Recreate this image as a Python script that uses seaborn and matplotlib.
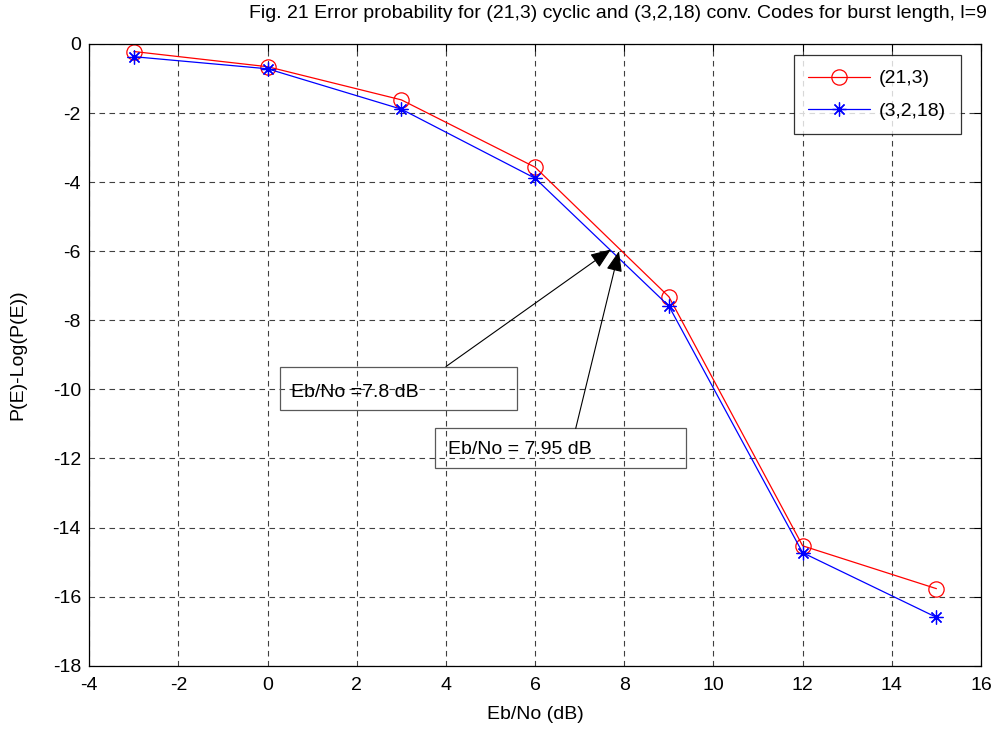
import numpy as np
import pandas as pd
import matplotlib
matplotlib.use("Agg")
import matplotlib.pyplot as plt
import matplotlib.patches as mpatches
import seaborn as sns

# data
ebno = [-3, 0, 3, 6, 9, 12, 15]
cyclic_21_3 = [-0.22, -0.66, -1.62, -3.57, -7.32, -14.53, -15.77]
conv_3_2_18 = [-0.37, -0.72, -1.89, -3.89, -7.59, -14.73, -16.60]
series_names = ["(21,3)", "(3,2,18)"]

df = pd.DataFrame({
    "ebno": ebno * 2,
    "pe": cyclic_21_3 + conv_3_2_18,
    "code": [series_names[0]] * len(ebno) + [series_names[1]] * len(ebno),
})

sns.set_style("white")
plt.rcParams["font.family"] = ["Liberation Sans", "DejaVu Sans"]
plt.rcParams["font.size"] = 14
plt.rcParams["axes.unicode_minus"] = False
plt.rcParams["text.color"] = "black"
plt.rcParams["axes.labelcolor"] = "black"

fs = 14
fig = plt.figure(figsize=(10, 7.32), dpi=100)
ax = fig.add_axes([0.0893, 0.0906, 0.8917, 0.8494])

sns.lineplot(data=df[df.code == series_names[0]], x="ebno", y="pe", ax=ax,
             color="red", lw=0.9, marker="o", markersize=11,
             markerfacecolor="none", markeredgecolor="red", markeredgewidth=0.9,
             label=series_names[0])
sns.lineplot(data=df[df.code == series_names[1]], x="ebno", y="pe", ax=ax,
             color="blue", lw=0.9, marker=(8, 2, 0), markersize=10,
             markeredgecolor="blue", markeredgewidth=0.9,
             label=series_names[1])

ax.set_xlim(-4, 16)
ax.set_ylim(-18, 0)
ax.set_xticks(np.arange(-4, 17, 2))
ax.set_yticks(np.arange(-18, 1, 2))
ax.grid(True, color="0.25", linestyle=(0, (5, 4)), linewidth=0.8)
ax.tick_params(direction="in", length=5, width=0.8, top=True, right=True,
               labelsize=fs, colors="black", pad=6)
ax.tick_params(axis="x", pad=8)
for s in ax.spines.values():
    s.set_color("black")
    s.set_linewidth(0.9)

ax.set_xlabel("Eb/No (dB)", fontsize=fs, labelpad=9)
ax.set_ylabel("P(E)-Log(P(E))", fontsize=fs, labelpad=19)
fig.text(0.6175, 1 - 13 / 732, "Fig. 21 Error probability for (21,3) cyclic and (3,2,18) conv. Codes for burst length, l=9",
         ha="center", va="center", fontsize=fs)

leg = ax.legend(loc="upper right", frameon=True, fancybox=False, fontsize=fs,
                edgecolor="black", borderpad=0.75, handlelength=3.2,
                handletextpad=0.45, labelspacing=0.75, borderaxespad=0,
                bbox_to_anchor=(0.9775, 0.9817))
leg.get_frame().set_linewidth(0.9)

# annotation boxes and arrows
ax.add_patch(mpatches.Rectangle((0.28, -10.61), 5.31, 1.27, fill=False,
                                edgecolor="0.35", lw=0.9))
ax.add_patch(mpatches.Rectangle((3.75, -12.28), 5.63, 1.15, fill=False,
                                edgecolor="0.35", lw=0.9))
ax.text(0.52, -10.09, "Eb/No =7.8 dB", va="center", ha="left", fontsize=fs)
ax.text(4.04, -11.73, "Eb/No = 7.95 dB", va="center", ha="left", fontsize=fs)
arrow = dict(arrowstyle="-|>,head_length=0.9,head_width=0.35", color="black",
             lw=0.8, shrinkA=0, shrinkB=0)
ax.annotate("", xy=(7.7, -5.95), xytext=(4.0, -9.34), arrowprops=arrow)
ax.annotate("", xy=(7.88, -6.0), xytext=(6.91, -11.13), arrowprops=arrow)

fig.savefig("out.png", dpi=100)
